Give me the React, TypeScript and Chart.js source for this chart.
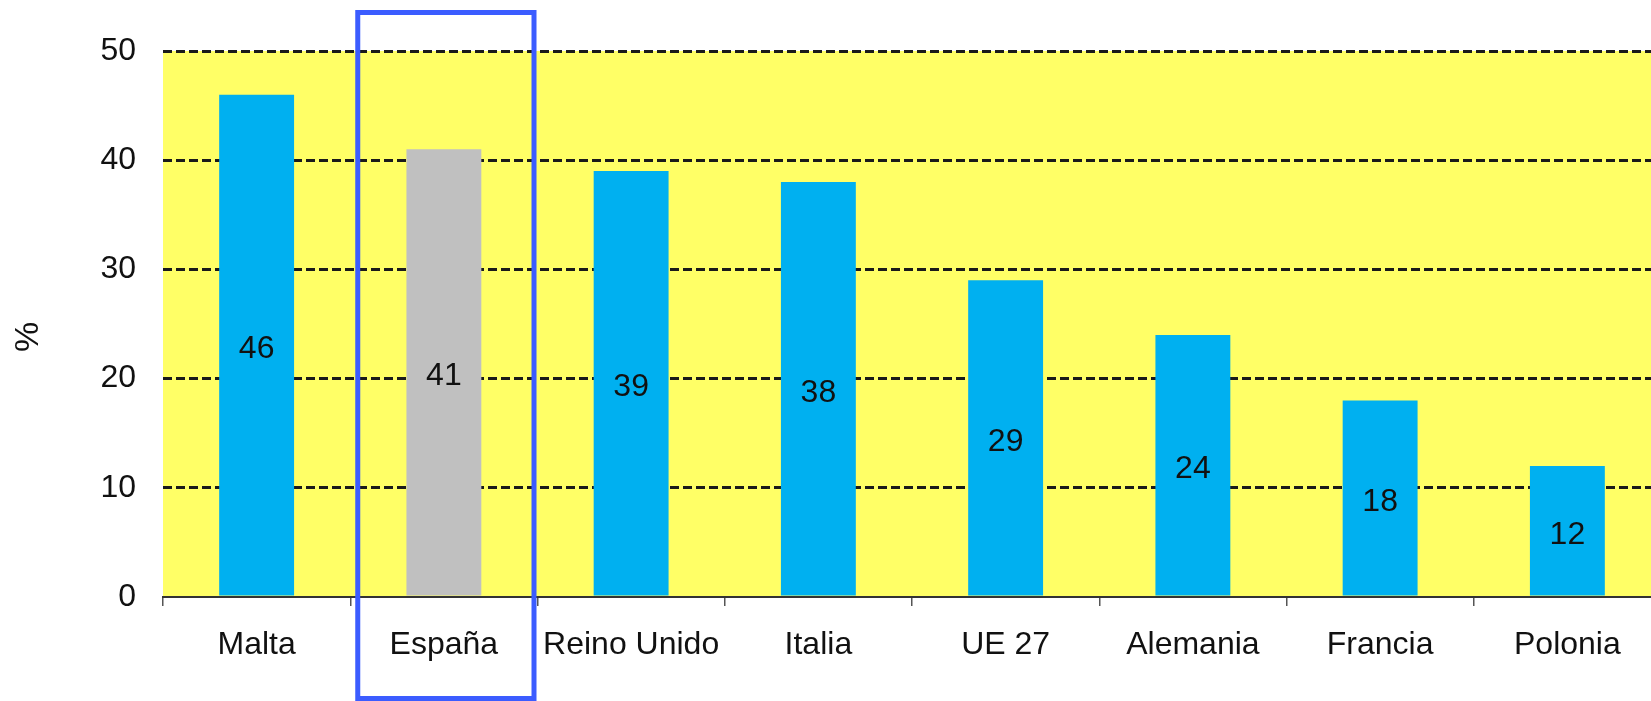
import { useEffect, useRef } from 'react';
import { Chart, registerables } from 'chart.js';

Chart.register(...registerables);

const categories = ['Malta', 'España', 'Reino Unido', 'Italia', 'UE 27', 'Alemania', 'Francia', 'Polonia'];
const values = [46, 41, 39, 38, 29, 24, 18, 12];
const highlightIndex = 1;
const yMin = 0;
const yMax = 50;
const yStep = 10;
const yTitle = '%';

const FONT = "'Liberation Sans', Arial, sans-serif";
const BLUE = '#00B0F0';
const GRAY = '#C0C0C0';
const YELLOW = '#FFFF66';
const BOX = '#3B5CFF';

const plotBackground = {
  id: 'plotBackground',
  beforeDraw(chart: any) {
    const { ctx, chartArea } = chart;
    ctx.save();
    ctx.fillStyle = YELLOW;
    ctx.fillRect(chartArea.left, chartArea.top, chartArea.right - chartArea.left, chartArea.bottom - chartArea.top);
    ctx.restore();
  },
};

const valueLabels = {
  id: 'valueLabels',
  afterDatasetsDraw(chart: any) {
    const { ctx } = chart;
    const meta = chart.getDatasetMeta(0);
    ctx.save();
    ctx.font = `32px ${FONT}`;
    ctx.fillStyle = '#111';
    ctx.textAlign = 'center';
    ctx.textBaseline = 'middle';
    meta.data.forEach((bar: any, i: number) => {
      ctx.fillText(String(values[i]), bar.x, (bar.y + bar.base) / 2 + 4);
    });
    ctx.restore();
  },
};

const axisTitle = {
  id: 'axisTitle',
  afterDraw(chart: any) {
    const { ctx, chartArea } = chart;
    ctx.save();
    ctx.translate(29, (chartArea.top + chartArea.bottom) / 2 + 13);
    ctx.rotate(-Math.PI / 2);
    ctx.font = `34px ${FONT}`;
    ctx.fillStyle = '#111';
    ctx.textAlign = 'center';
    ctx.textBaseline = 'middle';
    ctx.fillText(yTitle, 0, 0);
    ctx.restore();
  },
};

const highlightBox = {
  id: 'highlightBox',
  afterDraw(chart: any) {
    const { ctx, scales } = chart;
    const x = scales.x;
    const cx = x.getPixelForValue(highlightIndex);
    const half = (x.getPixelForValue(1) - x.getPixelForValue(0)) / 2;
    const left = cx - half + 7.5;
    const right = cx + half - 3.5;
    ctx.save();
    ctx.strokeStyle = BOX;
    ctx.lineWidth = 5;
    ctx.strokeRect(left, 12.5, right - left, chart.height - 15);
    ctx.restore();
  },
};

export default function App() {
  const ref = useRef<HTMLCanvasElement | null>(null);

  useEffect(() => {
    if (!ref.current) return;
    const chart = new Chart(ref.current, {
      type: 'bar',
      data: {
        labels: categories,
        datasets: [
          {
            data: values,
            backgroundColor: values.map((_, i) => (i === highlightIndex ? GRAY : BLUE)),
            borderWidth: 0,
            barPercentage: 0.4,
            categoryPercentage: 1.0,
          },
        ],
      },
      options: {
        animation: false,
        responsive: false,
        devicePixelRatio: 1,
        layout: { padding: { left: 0, right: 1, top: 51, bottom: 0 } },
        plugins: {
          legend: { display: false },
          tooltip: { enabled: false },
        },
        scales: {
          x: {
            afterFit: (s: any) => {
              s.height = 104;
            },
            grid: {
              display: true,
              drawOnChartArea: false,
              drawTicks: true,
              tickLength: 9,
              color: '#555',
              lineWidth: 1.5,
              offset: true,
            },
            border: { display: true, color: '#333', width: 2 },
            ticks: {
              color: '#111',
              font: { family: FONT, size: 32 },
              padding: 20,
              maxRotation: 0,
              autoSkip: false,
            },
          },
          y: {
            min: yMin,
            max: yMax,
            afterFit: (s: any) => {
              s.width = 163;
            },
            ticks: {
              stepSize: yStep,
              color: '#111',
              font: { family: FONT, size: 32 },
              padding: 27,
            },
            grid: {
              drawTicks: false,
              lineWidth: 3,
              color: (c: any) => (c.tick && c.tick.value === 0 ? 'rgba(0,0,0,0)' : '#1a1a1a'),
            },
            border: { display: false, dash: [9, 4] },
          },
        },
      },
      plugins: [plotBackground, valueLabels, highlightBox, axisTitle],
    });
    return () => chart.destroy();
  }, []);

  return (
    <div
      style={{
        position: 'fixed',
        left: 0,
        top: 0,
        width: 1651,
        height: 701,
        overflow: 'hidden',
        background: '#fff',
      }}
    >
      <canvas ref={ref} width={1662} height={701} style={{ display: 'block' }} />
    </div>
  );
}
